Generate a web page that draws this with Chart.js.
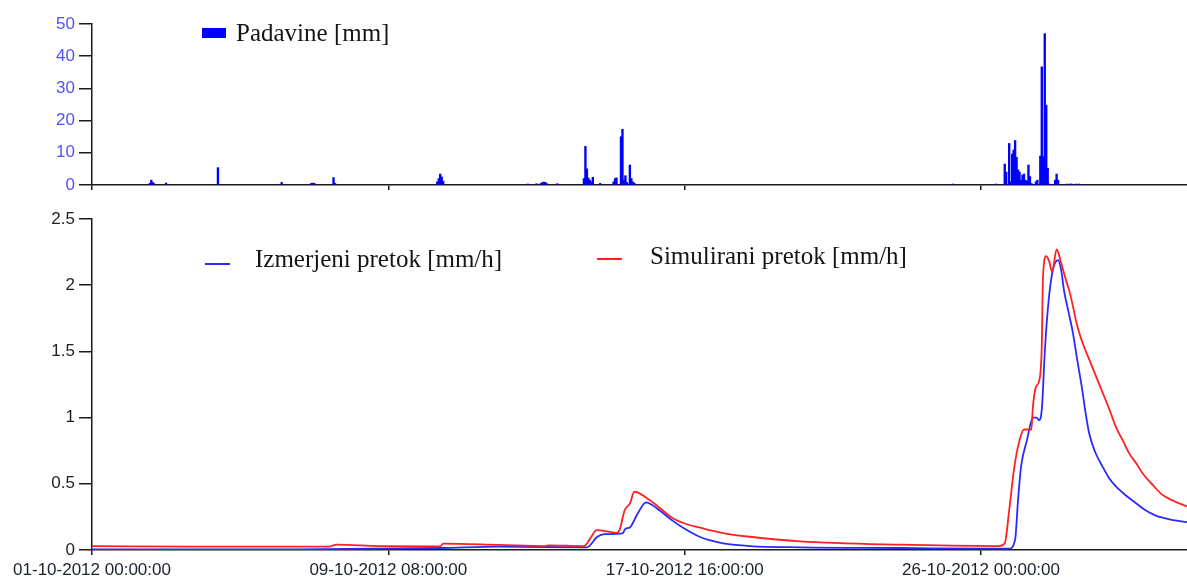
<!DOCTYPE html>
<html>
<head>
<meta charset="utf-8">
<title>Padavine in pretok - oktober 2012</title>
<script src="https://cdn.jsdelivr.net/npm/chart.js@4.4.1/dist/chart.umd.min.js"></script>
<style>
    html, body { margin: 0; padding: 0; background: #fff; }
    #wrap { position: relative; width: 1187px; height: 579px; overflow: hidden; background: #fff; }
    #rain { position: absolute; left: 0; top: 0; }
    #flow { position: absolute; left: 0; top: 200px; }
    .leg { position: absolute; font: 25px 'Liberation Serif', 'Times New Roman', serif; line-height: 25px; color: #141414; white-space: nowrap; }
    .sw { position: absolute; }
</style>
</head>
<body>
<div id="wrap">
    <canvas id="rain" width="1187" height="200"></canvas>
    <canvas id="flow" width="1187" height="379"></canvas>

    <div class="sw" style="left:202px;top:28px;width:24px;height:10px;background:#0000ff"></div>
    <div class="leg" style="left:236px;top:20px">Padavine [mm]</div>

    <div class="sw" style="left:205px;top:263px;width:25px;height:2px;background:#2a2aff"></div>
    <div class="leg" style="left:255px;top:246px">Izmerjeni pretok [mm/h]</div>

    <div class="sw" style="left:597px;top:258px;width:25px;height:2px;background:#ff2020"></div>
    <div class="leg" style="left:650px;top:243px">Simulirani pretok [mm/h]</div>
</div>
<script>
// Time axis in hours from 01-10-2012 00:00:00.
const X_MAX = 739;
const TICK_HOURS = [0, 200, 400, 600];
const TICK_LABELS = ['01-10-2012 00:00:00', '09-10-2012 08:00:00', '17-10-2012 16:00:00', '26-10-2012 00:00:00'];

// --- Hourly rainfall [mm] (only non-zero hours) ---
const RAIN_HOURS = [
    39, 40, 41, 42, 50, 85, 128, 148, 149, 150, 163, 164,
    233, 234, 235, 236, 237, 294, 300, 303, 304, 305, 306, 307, 314,
    332, 333, 334, 335, 336, 337, 338, 343,
    352, 353, 354, 357, 358, 359, 360, 361, 363, 364, 365, 366,
    581, 610, 616, 617, 619, 620, 621, 622, 623, 624, 625, 626, 627, 628, 629, 630,
    631, 632, 633, 634, 637, 638, 640, 641, 642, 643, 644, 645, 646,
    650, 651, 652, 658, 660, 661, 664, 666,
];
const RAIN_MM = [
    0.5, 1.5, 0.8, 0.4, 0.6, 5.4, 0.8, 0.5, 0.6, 0.5, 2.3, 0.5,
    1.0, 2.0, 3.4, 2.5, 1.2, 0.3, 0.4, 0.5, 0.8, 0.9, 0.8, 0.4, 0.4,
    2.0, 12.0, 5.0, 2.2, 1.5, 1.0, 2.4, 0.5,
    1.0, 2.0, 2.2, 15.0, 17.3, 1.5, 2.9, 0.8, 6.2, 2.0, 1.0, 0.6,
    0.3, 0.3, 6.5, 4.0, 12.9, 1.0, 9.6, 10.9, 13.8, 8.6, 4.7, 4.0, 1.5, 3.1, 3.4, 1.5,
    1.2, 6.2, 2.6, 0.5, 1.0, 1.5, 9.0, 36.7, 8.8, 47.0, 24.8, 5.2, 0.3,
    1.5, 3.4, 1.5, 0.3, 0.3, 0.3, 0.3, 0.3,
];

// --- Measured discharge [mm/h] ---
const MEAS_HOURS = [
    0, 140, 235, 275, 334, 341, 346, 358, 360, 363, 368, 374, 378, 383, 392, 400, 410, 418, 426, 444, 478, 545, 612,
    619, 623, 625, 627, 631, 635, 637.5, 639, 641, 643, 645, 648, 652, 654, 656, 659, 662, 665, 668, 670.5, 673,
    677, 682, 686, 691, 698, 705, 711, 718, 728, 739,
];
const MEAS_FLOW = [
    0.005, 0.005, 0.015, 0.025, 0.02, 0.1, 0.12, 0.125, 0.16, 0.17, 0.27, 0.36, 0.34, 0.3, 0.22, 0.16, 0.1, 0.07, 0.05, 0.03, 0.02, 0.015, 0.01,
    0.01, 0.08, 0.38, 0.63, 0.83, 1.0, 1.0, 0.98, 1.06, 1.49, 1.81, 2.09, 2.19, 2.12, 1.96, 1.8, 1.64, 1.43, 1.23, 1.04, 0.88,
    0.74, 0.63, 0.55, 0.48, 0.41, 0.35, 0.3, 0.26, 0.23, 0.21,
];

// --- Simulated discharge [mm/h] ---
const SIM_HOURS = [
    0, 73, 160, 165, 194, 235, 237, 275, 306, 308, 332, 337, 340.5, 354, 356, 359.5, 363, 366, 376, 384, 392, 400, 410, 425, 444, 478, 545, 612,
    616, 619, 622.5, 626, 629, 634, 635, 637, 639, 641, 641.8, 644, 646, 648, 651, 654, 657, 660, 665, 669, 673,
    678, 682, 687, 691, 696, 700, 705, 709, 716, 722, 730, 739,
];
const SIM_FLOW = [
    0.03, 0.025, 0.025, 0.04, 0.03, 0.028, 0.048, 0.038, 0.03, 0.035, 0.03, 0.1, 0.15, 0.13, 0.15, 0.3, 0.35, 0.44, 0.38, 0.31, 0.24, 0.2, 0.17, 0.13, 0.1, 0.065, 0.04, 0.03,
    0.05, 0.3, 0.63, 0.83, 0.91, 0.91, 1.08, 1.23, 1.27, 1.54, 2.06, 2.22, 2.18, 2.1, 2.27, 2.17, 2.05, 1.94, 1.69, 1.55, 1.44,
    1.3, 1.19, 1.05, 0.93, 0.82, 0.73, 0.65, 0.58, 0.49, 0.42, 0.37, 0.33,
];

// --- Style ---
const AXIS = '#1c1c1c';
const TICK_FONT = { family: "'Liberation Sans', Arial, sans-serif", size: 17 };

function pairs(xs, ys) { return xs.map((x, i) => ({ x, y: ys[i] })); }
function fixWidth(w) { return (scale) => { scale.width = w; }; }
function fixHeight(h) { return (scale) => { scale.height = h; }; }
function timeTicks(scale) { scale.ticks = TICK_HOURS.map((v) => ({ value: v })); }

// Shared x axis: ticks at 200 h steps, labels only on the lower panel.
function xAxis(showLabels, height) {
    return {
        type: 'linear',
        min: 0,
        max: X_MAX,
        offset: false,
        afterBuildTicks: timeTicks,
        afterFit: fixHeight(height),
        ticks: {
            display: showLabels,
            autoSkip: false,
            maxRotation: 0,
            padding: 5,
            color: '#1a2030',
            font: TICK_FONT,
            callback: (v) => TICK_LABELS[TICK_HOURS.indexOf(v)] ?? '',
        },
        grid: { offset: false, drawOnChartArea: false, tickLength: 5, color: AXIS, lineWidth: 1.5 },
        border: { color: AXIS, width: 1.5 },
    };
}

function yAxis(max, step, color) {
    return {
        min: 0,
        max,
        afterFit: fixWidth(92),
        ticks: { stepSize: step, color, font: TICK_FONT, padding: 4, callback: (v) => String(v) },
        grid: { drawOnChartArea: false, tickLength: 13, color: AXIS, lineWidth: 1.5 },
        border: { color: AXIS, width: 1.5 },
    };
}

// Upper panel: rainfall bars.
new Chart(document.getElementById('rain'), {
    type: 'bar',
    data: {
        datasets: [{
            data: pairs(RAIN_HOURS, RAIN_MM),
            backgroundColor: '#0000ff',
            borderWidth: 0,
            barThickness: 1.7,
        }],
    },
    options: {
        responsive: false,
        animation: false,
        layout: { padding: { top: 24, left: 0, right: 0, bottom: 0 } },
        plugins: { legend: { display: false }, tooltip: { enabled: false } },
        scales: {
            x: xAxis(false, 15),
            y: yAxis(50, 10, '#5050ff'),
        },
    },
});

// Lower panel: measured vs simulated discharge.
new Chart(document.getElementById('flow'), {
    type: 'line',
    data: {
        datasets: [
            {
                label: 'Izmerjeni pretok [mm/h]',
                data: pairs(MEAS_HOURS, MEAS_FLOW),
                borderColor: '#2a2aff',
                borderWidth: 1.8,
                pointRadius: 0,
                cubicInterpolationMode: 'monotone',
                order: 2,
            },
            {
                label: 'Simulirani pretok [mm/h]',
                data: pairs(SIM_HOURS, SIM_FLOW),
                borderColor: '#ff2020',
                borderWidth: 1.8,
                pointRadius: 0,
                cubicInterpolationMode: 'monotone',
                order: 1,
            },
        ],
    },
    options: {
        responsive: false,
        animation: false,
        layout: { padding: { top: 19, left: 0, right: 0, bottom: 0 } },
        plugins: { legend: { display: false }, tooltip: { enabled: false } },
        scales: {
            x: xAxis(true, 29),
            y: yAxis(2.5, 0.5, '#1e1e28'),
        },
    },
});
</script>
</body>
</html>
